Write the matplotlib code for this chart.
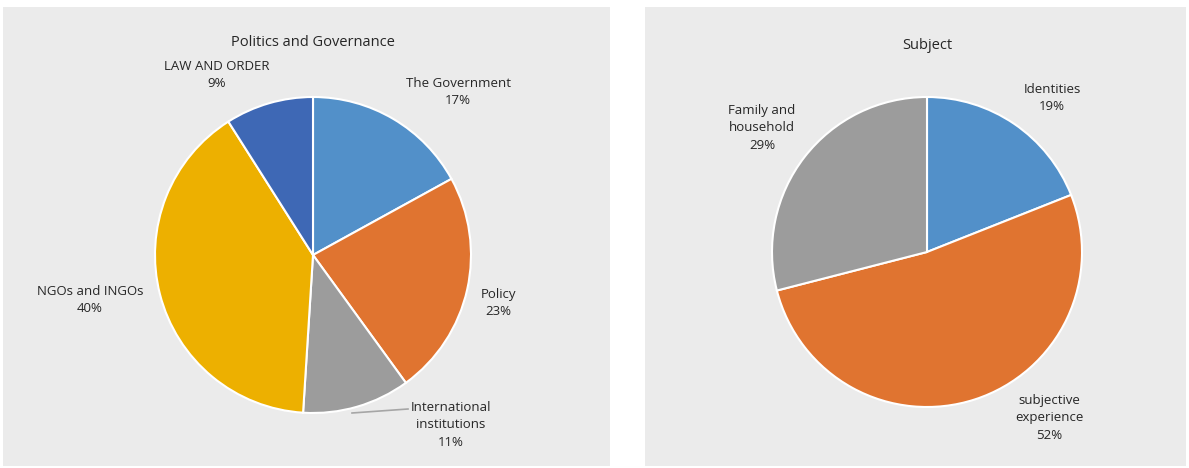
import matplotlib.pyplot as plt
from matplotlib.patches import Rectangle

plt.rcParams['font.family'] = ['Open Sans', 'DejaVu Sans']

# data
pol_labels = ['The Government', 'Policy', 'International\ninstitutions', 'NGOs and INGOs', 'LAW AND ORDER']
pol_values = [17, 23, 11, 40, 9]
pol_colors = ['#5290C9', '#E07430', '#9C9C9C', '#EDB000', '#3E68B5']

subj_labels = ['Identities', 'subjective\nexperience', 'Family and\nhousehold']
subj_values = [19, 52, 29]
subj_colors = ['#5290C9', '#E07430', '#9C9C9C']

W, H = 1189, 468
BG = '#EBEBEB'
TXT = '#262626'

fig = plt.figure(figsize=(W / 100, H / 100), dpi=100)
fig.patch.set_facecolor('white')


def panel(box, center, r, labels, values, colors, label_pos, title, title_y):
    x0, y0, x1, y1 = box
    cx, cy = center
    fig.patches.append(Rectangle((x0 / W, 1 - y1 / H), (x1 - x0) / W, (y1 - y0) / H,
                                 transform=fig.transFigure, facecolor=BG,
                                 edgecolor='none', zorder=0))
    ax = fig.add_axes([x0 / W, 1 - y1 / H, (x1 - x0) / W, (y1 - y0) / H])
    ax.set_zorder(1)
    ax.pie(values, colors=colors, startangle=90, counterclock=False, radius=1,
           wedgeprops=dict(edgecolor='white', linewidth=1.5))
    ax.set_xlim((x0 - cx) / r, (x1 - cx) / r)
    ax.set_ylim((cy - y1) / r, (cy - y0) / r)
    ax.set_aspect('equal')
    ax.axis('off')
    for lab, v, (px, py) in zip(labels, values, label_pos):
        ax.text((px - cx) / r, (cy - py) / r, f'{lab}\n{v}%', ha='center', va='center',
                fontsize=9.5, color=TXT, linespacing=1.45)
    ax.text(0, (cy - title_y) / r, title, ha='center', va='center', fontsize=10.5, color=TXT)
    return ax, cx, cy, r


ax, cx, cy, r = panel((3, 7, 610, 466), (313, 255), 158, pol_labels, pol_values, pol_colors,
                      [(458, 92), (498, 303), (451, 425), (90, 300), (217, 75)],
                      'Politics and Governance', 43)
# leader line for the small slice label
ax.plot([(352 - cx) / r, (408 - cx) / r], [(cy - 413) / r, (cy - 409) / r],
        color='#A6A6A6', linewidth=1.2)

panel((645, 7, 1186, 466), (927, 252), 155, subj_labels, subj_values, subj_colors,
      [(1052, 98), (1049, 418), (762, 128)], 'Subject', 46)

fig.savefig('out.png', dpi=100, facecolor=fig.get_facecolor())
